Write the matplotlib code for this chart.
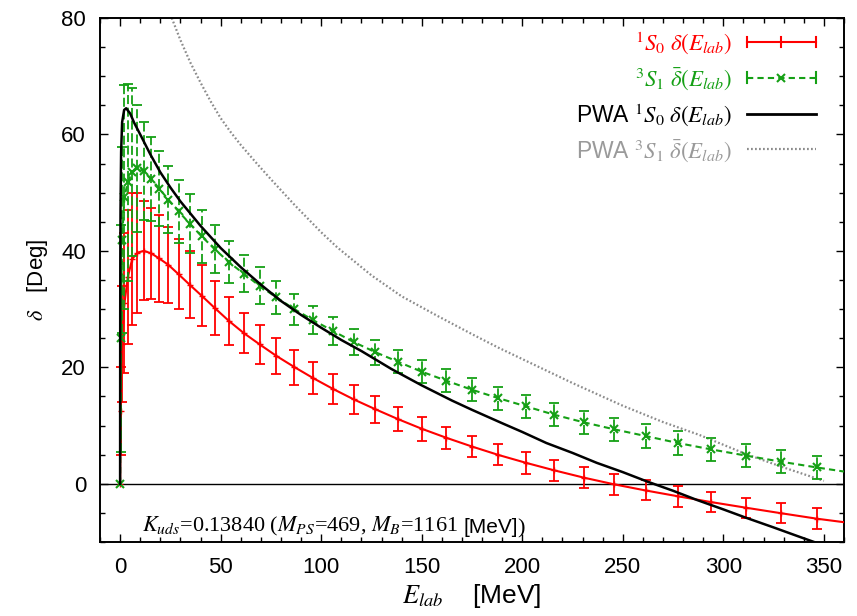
import matplotlib
matplotlib.use("Agg")
import matplotlib.pyplot as plt
from matplotlib.legend_handler import HandlerBase
from matplotlib.lines import Line2D
from matplotlib.ticker import MultipleLocator

plt.rcParams['font.family'] = ['Liberation Sans', 'DejaVu Sans']
plt.rcParams['mathtext.fontset'] = 'stix'

# ---- data ----
E_pts = [0, 0.24, 0.96, 2.16, 3.84, 6.0, 8.64, 11.76, 15.36, 19.44, 24.0, 29.04,
         34.56, 40.56, 47.04, 54.0, 61.44, 69.36, 77.76, 86.64, 96.0, 105.84,
         116.16, 126.96, 138.24, 150.0, 162.24, 174.96, 188.16, 201.84, 216.0,
         230.64, 245.76, 261.36, 277.44, 294.0, 311.04, 328.56, 346.56]

d1S0 = [0, 12.5, 24.0, 31.0, 35.5, 38.6, 39.7, 40.0, 39.6, 38.7, 37.6, 36.0,
        34.2, 32.3, 30.2, 28.0, 25.9, 23.95, 21.95, 20.05, 18.15, 16.3,
        14.5, 12.8, 11.1, 9.45, 7.9, 6.4, 4.95, 3.6, 2.3,
        1.05, -0.1, -1.15, -2.15, -3.15, -4.1, -5.05, -6.0]
e1S0 = [0, 7.5, 10.0, 12.0, 11.5, 11.3, 10.3, 8.5, 7.8, 7.4, 6.5, 6.0,
        5.7, 5.2, 4.7, 4.1, 3.45, 3.4, 3.15, 3.0, 2.8, 2.63,
        2.43, 2.29, 2.1, 2.05, 1.92, 1.86, 1.8, 1.85, 1.8,
        1.8, 1.77, 1.72, 1.8, 1.7, 1.72, 1.68, 1.8]

d3S1 = [0, 25.0, 41.9, 49.3, 51.8, 53.6, 54.2, 53.7, 52.4, 50.7, 48.8, 46.8,
        44.7, 42.5, 40.3, 38.1, 36.1, 34.0, 32.0, 30.0, 28.1, 26.25,
        24.35, 22.6, 20.95, 19.25, 17.7, 16.15, 14.7, 13.3, 11.85,
        10.55, 9.35, 8.2, 7.0, 5.9, 4.85, 3.8, 2.8]
e3S1 = [0, 19.5, 16.0, 19.2, 16.9, 14.4, 10.9, 8.4, 7.2, 6.4, 5.8, 5.4,
        5.0, 4.5, 4.1, 3.6, 3.15, 3.15, 2.8, 2.66, 2.46, 2.38,
        2.15, 2.15, 2.0, 1.95, 2.0, 2.0, 2.0, 2.0, 2.0,
        2.0, 2.0, 2.0, 2.0, 2.0, 2.0, 2.0, 2.0]

# curve continuation to the right frame
E_end = [360]
d1S0_end = [-6.6]
d3S1_end = [2.1]

# PWA curves
E_pwa1 = [0, 0.05, 0.1, 0.2, 0.5, 1, 2, 3, 5, 7, 10, 15, 20, 25, 30, 40, 50,
          60, 70, 80, 90, 100, 110, 120, 135, 150, 165, 175, 190, 200, 212,
          225, 237, 250, 262, 275, 287, 300, 311, 325, 337, 350, 360]
d_pwa1 = [0, 29.0, 38.4, 47.0, 57.0, 62.1, 64.2, 64.5, 63.6, 62.0, 60.0, 56.6,
          53.5, 50.9, 48.5, 44.3, 40.5, 37.2, 34.2, 31.4, 29.0, 26.8, 24.7,
          22.8, 19.7, 16.9, 14.3, 12.7, 10.4, 8.9, 7.0, 5.3, 3.6, 2.0, 0.4,
          -1.2, -2.8, -4.4, -5.8, -7.5, -9.0, -10.6, -11.8]

E_pwa3 = [20, 25, 30, 35, 40, 45, 50, 55, 60, 68, 75, 87, 100, 108, 125, 140,
          158, 175, 188, 208, 225, 250, 270, 288, 312, 330, 350]
d_pwa3 = [85.9, 80.6, 76.2, 72.3, 68.9, 65.7, 62.8, 60.4, 58.2, 55.0, 52.3,
          47.8, 43.2, 40.6, 35.8, 32.2, 28.8, 25.7, 23.4, 20.1, 17.3, 13.4,
          10.6, 8.4, 5.0, 2.8, 0.5]

RED = '#ff0000'
GREEN = '#15a015'
GRAY = '#8c8c8c'
LGRAY = '#9a9a9a'

fig = plt.figure(figsize=(8.57, 6.16), dpi=100)
ax = fig.add_axes([100/857, 1-542/616, 744/857, 524/616])

ax.axhline(0, color='black', lw=1.0, zorder=1)

# PWA 3S1 (dotted gray)
ax.plot(E_pwa3, d_pwa3, color=GRAY, lw=1.6, ls=(0, (0.8, 1.0)), zorder=2)

# red 1S0
ax.plot(E_pts + E_end, d1S0 + d1S0_end, color=RED, lw=1.5, zorder=3)
ax.errorbar(E_pts[1:], d1S0[1:], yerr=e1S0[1:], fmt='none', ecolor=RED,
            elinewidth=1.3, capsize=3.8, capthick=1.3, zorder=3)
ax.plot(E_pts, d1S0, ls='none', marker='+', ms=4, mew=1.0, color=RED, zorder=3)

# green 3S1
ax.plot(E_pts + E_end, d3S1 + d3S1_end, color=GREEN, lw=1.5,
        ls=(0, (3, 2)), zorder=4)
eb = ax.errorbar(E_pts[1:], d3S1[1:], yerr=e3S1[1:], fmt='none', ecolor=GREEN,
                 elinewidth=1.3, capsize=3.8, capthick=1.3, zorder=4)
eb[2][0].set_linestyle((0, (5, 2)))
ax.plot(E_pts, d3S1, ls='none', marker='x', ms=6, mew=1.5, color=GREEN, zorder=4)

# PWA 1S0
ax.plot(E_pwa1, d_pwa1, color='black', lw=1.8, zorder=5)

ax.set_xlim(-10, 360)
ax.set_ylim(-10, 80)
ax.xaxis.set_major_locator(MultipleLocator(50))
ax.xaxis.set_minor_locator(MultipleLocator(10))
ax.yaxis.set_major_locator(MultipleLocator(20))
ax.yaxis.set_minor_locator(MultipleLocator(5))
ax.tick_params(which='both', direction='in', top=True, right=True, width=1.0)
ax.tick_params(which='major', length=6, labelsize=16)
ax.tick_params(which='minor', length=3.5)
ax.tick_params(axis='x', which='major', pad=11)
ax.tick_params(axis='y', which='major', pad=10)
for s in ax.spines.values():
    s.set_linewidth(1.4)

ax.set_xlabel(r'$E_{lab}$    [MeV]', fontsize=19, labelpad=3)
ax.set_ylabel(r'$\delta$   [Deg]', fontsize=16, labelpad=8)

t1 = ax.text(0.056, 0.02,
             r'$K_{uds}$=0.13840 ($M_{PS}$=469, $M_B$=1161',
             transform=ax.transAxes, fontsize=16, family='Liberation Serif',
             ha='left', va='baseline')
t2 = ax.annotate('[MeV]', xy=(1, 0), xycoords=t1, xytext=(4, 0.5),
                 textcoords='offset points', fontsize=15,
                 family='Liberation Sans', ha='left', va='bottom')
ax.annotate(')', xy=(1, 0), xycoords=t2, xytext=(0, -0.5),
            textcoords='offset points', fontsize=16,
            family='Liberation Serif', ha='left', va='bottom')


class GPHandler(HandlerBase):
    def __init__(self, color, ls='-', lw=1.5, mid='tick', ends=True, **kw):
        super().__init__(**kw)
        self.c = color
        self.ls = ls
        self.lw = lw
        self.mid = mid
        self.ends = ends

    def create_artists(self, legend, orig_handle, xdescent, ydescent, width,
                       height, fontsize, trans):
        x0 = -xdescent
        x1 = x0 + width
        y = height / 2 - ydescent
        arts = [Line2D([x0, x1], [y, y], color=self.c, ls=self.ls, lw=self.lw)]
        h = height * 0.33
        if self.ends:
            for x in (x0, x1):
                arts.append(Line2D([x, x], [y - h, y + h], color=self.c, lw=self.lw))
        xm = (x0 + x1) / 2
        if self.mid == 'tick':
            arts.append(Line2D([xm, xm], [y - h, y + h], color=self.c, lw=self.lw))
        elif self.mid == 'x':
            arts.append(Line2D([xm], [y], color=self.c, marker='x', ms=6, mew=1.5))
        for a in arts:
            a.set_transform(trans)
        return arts


hr = Line2D([], [])
hg = Line2D([], [])
hk = Line2D([], [])
hy = Line2D([], [])
labels = [r'$^1S_0\ \delta(E_{lab})$',
          r'$^3S_1\ \bar{\delta}(E_{lab})$',
          r'PWA $^1S_0\ \delta(E_{lab})$',
          r'PWA $^3S_1\ \bar{\delta}(E_{lab})$']
leg = ax.legend([hr, hg, hk, hy], labels, loc='upper right',
                bbox_to_anchor=(0.962, 0.978), frameon=False, fontsize=16.5,
                markerfirst=False, handlelength=3.0, handletextpad=0.65,
                labelspacing=0.4, borderaxespad=0, borderpad=0,
                handler_map={
                    hr: GPHandler(RED, '-', 1.5, 'tick'),
                    hg: GPHandler(GREEN, (0, (3, 2)), 1.5, 'x'),
                    hk: GPHandler('black', '-', 2.0, None, ends=False),
                    hy: GPHandler(GRAY, (0, (0.8, 1.0)), 1.6, None, ends=False),
                })
for t, c in zip(leg.get_texts(), [RED, GREEN, 'black', LGRAY]):
    t.set_color(c)

fig.savefig('out.png', dpi=100)
